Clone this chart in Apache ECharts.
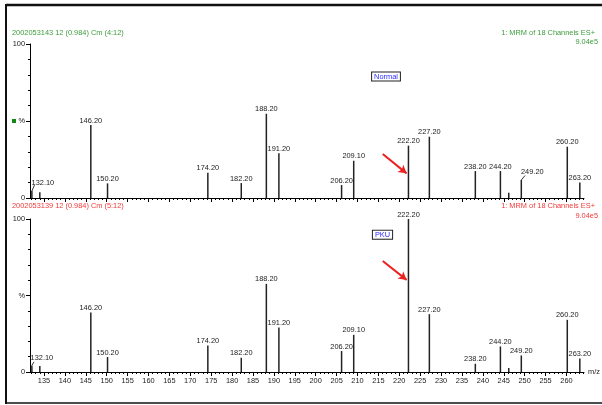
<!DOCTYPE html>
<html>
<head>
<meta charset="utf-8">
<script src="https://cdn.jsdelivr.net/npm/echarts@6/dist/echarts.min.js"></script>
<style>html,body{margin:0;padding:0;background:#fff;}#c{width:602px;height:405px;}</style>
</head>
<body>
<div id="c"></div>
<script>
// ---- data ----
const mz = [132.1, 134.0, 146.2, 150.2, 174.2, 182.2, 188.2, 191.2, 206.2, 209.1, 222.2, 227.2, 238.2, 244.2, 246.2, 249.2, 260.2, 263.2];
const mzLabels = ["132.10", "", "146.20", "150.20", "174.20", "182.20", "188.20", "191.20", "206.20", "209.10", "222.20", "227.20", "238.20", "244.20", "", "249.20", "260.20", "263.20"];
const normalPct = [4.5, 3.7, 47.4, 9.5, 16.4, 9.7, 54.7, 29.0, 8.4, 24.2, 34.0, 39.8, 17.5, 17.5, 3.4, 11.7, 33.3, 10.0];
const pkuPct = [4.3, 3.9, 38.9, 9.8, 17.4, 9.3, 57.6, 29.1, 13.7, 24.3, 100, 37.8, 5.4, 16.7, 2.6, 10.8, 34.1, 8.9];
const xMajorTicks = [135, 140, 145, 150, 155, 160, 165, 170, 175, 180, 185, 190, 195, 200, 205, 210, 215, 220, 225, 230, 235, 240, 245, 250, 255, 260];
const xMinorTicks = [132, 133, 134, 136, 137, 138, 139, 141, 142, 143, 144, 146, 147, 148, 149, 151, 152, 153, 154, 156, 157, 158, 159, 161, 162, 163, 164, 166, 167, 168, 169, 171, 172, 173, 174, 176, 177, 178, 179, 181, 182, 183, 184, 186, 187, 188, 189, 191, 192, 193, 194, 196, 197, 198, 199, 201, 202, 203, 204, 206, 207, 208, 209, 211, 212, 213, 214, 216, 217, 218, 219, 221, 222, 223, 224, 226, 227, 228, 229, 231, 232, 233, 234, 236, 237, 238, 239, 241, 242, 243, 244, 246, 247, 248, 249, 251, 252, 253, 254, 256, 257, 258, 259, 261, 262, 263, 264];
const yMajorTicks = [0, 50, 100];
const yMinorTicks = [10, 20, 30, 40, 60, 70, 80, 90];
const topTitle = "2002053143 12 (0.984) Cm (4:12)";
const bottomTitle = "2002053139 12 (0.984) Cm (5:12)";
const channelText = "1: MRM of 18 Channels ES+";
const intensityText = "9.04e5";
const arrowTop = [[216.05, 28.6], [221.75, 16.0]];
const arrowBottom = [[216.05, 72.6], [221.75, 60.2]];
// label leader lines: [peak index, end point of the leader]
const leadersTop = [[0, [132.75, 8.6]], [15, [250.1, 14.6]]];
const leadersBottom = [[0, [132.6, 6.6]]];

const FONT = "'Liberation Sans', Arial, sans-serif";
const FS = 7.4;
const GREEN = '#3c9c3c';
const RED = '#f03a3a';
const XMIN = 131.65, XMAX = 264.2;

const grids = [
  {left: 30, top: 44, width: 554, height: 154},
  {left: 30, top: 219, width: 554, height: 153}
];

function xAxes(gi, showLabels) {
  return [{
    type: 'value', gridIndex: gi, min: XMIN, max: XMAX, position: 'bottom',
    splitLine: {show: false},
    axisLine: {show: true, onZero: false, lineStyle: {color: '#000', width: 1}},
    axisTick: {show: true, customValues: xMajorTicks, length: 4, lineStyle: {color: '#000'}},
    axisLabel: {show: showLabels, customValues: xMajorTicks, fontSize: FS, fontFamily: FONT, color: '#222', margin: 5,
      formatter: v => String(v)},
    name: showLabels ? 'm/z' : '', nameLocation: 'end', nameGap: 4,
    nameTextStyle: {fontSize: FS, fontFamily: FONT, color: '#222', verticalAlign: 'middle'}
  }, {
    type: 'value', gridIndex: gi, min: XMIN, max: XMAX, position: 'bottom',
    splitLine: {show: false},
    axisLine: {show: false, onZero: false},
    axisTick: {show: true, customValues: xMinorTicks, length: 2, lineStyle: {color: '#000'}},
    axisLabel: {show: false}
  }];
}
function yAxes(gi) {
  return [{
    type: 'value', gridIndex: gi, min: 0, max: 100, position: 'left',
    splitLine: {show: false},
    axisLine: {show: true, onZero: false, lineStyle: {color: '#000', width: 1}},
    axisTick: {show: true, customValues: yMajorTicks, length: 4, lineStyle: {color: '#000'}},
    axisLabel: {show: true, customValues: yMajorTicks, fontSize: FS, fontFamily: FONT, color: '#222', margin: 5,
      formatter: v => (v === 50 ? '%' : String(v))}
  }, {
    type: 'value', gridIndex: gi, min: 0, max: 100, position: 'left',
    splitLine: {show: false},
    axisLine: {show: false, onZero: false},
    axisTick: {show: true, customValues: yMinorTicks, length: 2, lineStyle: {color: '#000'}},
    axisLabel: {show: false}
  }];
}

function peakSeries(values, gi, moves, arrow, leaders) {
  const lines = [[{coord: arrow[0], symbol: 'none'}, {coord: arrow[1], symbol: 'arrow'}]];
  leaders.forEach(([i, end]) => {
    lines.push([
      {coord: [mz[i], values[i]], symbol: 'none', lineStyle: {color: '#222', width: 0.9}},
      {coord: end, symbol: 'none'}
    ]);
  });
  return {
    type: 'bar', xAxisIndex: gi * 2, yAxisIndex: gi * 2,
    barWidth: 1.5, animation: false,
    itemStyle: {color: '#222'},
    data: mz.map((m, i) => [m, values[i]]),
    label: {show: true, position: 'top', distance: 1, fontSize: FS, fontFamily: FONT, color: '#222',
      formatter: p => mzLabels[p.dataIndex]},
    labelLayout: p => moves[p.dataIndex] || {},
    markLine: {
      silent: true, animation: false,
      symbol: ['none', 'arrow'], symbolSize: [7, 8],
      label: {show: false},
      lineStyle: {color: '#ee2020', width: 2, type: 'solid'},
      data: lines
    }
  };
}

const chart = echarts.init(document.getElementById('c'), null, {renderer: 'canvas'});

function txt(x, y, text, color, align) {
  return {type: 'text', x: x, y: y, style: {text: text, fill: color, font: FS + 'px ' + FONT, align: align || 'left', verticalAlign: 'middle'}};
}
function box(x, y, text) {
  return {type: 'text', x: x, y: y, style: {text: text, fill: '#2a2aff', font: FS + 'px ' + FONT, align: 'center', verticalAlign: 'middle',
    backgroundColor: '#fff', borderColor: '#222', borderWidth: 1, padding: [1, 2, 0, 2]}};
}

chart.setOption({
  backgroundColor: '#fff',
  animation: false,
  grid: grids,
  xAxis: [].concat(xAxes(0, false), xAxes(1, true)),
  yAxis: [].concat(yAxes(0), yAxes(1)),
  series: [
    peakSeries(normalPct, 0, {0: {dx: 11, dy: -4}, 15: {dx: 11, dy: -4}}, arrowTop, leadersTop),
    peakSeries(pkuPct, 1, {0: {dx: 10, dy: -3}}, arrowBottom, leadersBottom)
  ],
  graphic: [
    {type: 'line', shape: {x1: 6, y1: 5, x2: 602, y2: 5}, style: {stroke: '#111', lineWidth: 2.5}},
    {type: 'line', shape: {x1: 6, y1: 4, x2: 6, y2: 404}, style: {stroke: '#111', lineWidth: 2}},
    {type: 'line', shape: {x1: 6, y1: 403, x2: 602, y2: 403}, style: {stroke: '#111', lineWidth: 1.5}},
    txt(12, 32.5, topTitle, GREEN),
    txt(595, 32.5, channelText, GREEN, 'right'),
    txt(598, 42, intensityText, GREEN, 'right'),
    txt(12, 206, bottomTitle, RED),
    txt(595, 206, channelText, RED, 'right'),
    txt(598, 215.5, intensityText, RED, 'right'),
    {type: 'rect', shape: {x: 12, y: 119, width: 4, height: 4}, style: {fill: '#118811'}},
    box(386, 76.5, 'Normal'),
    box(382.5, 234.7, 'PKU')
  ]
});
</script>
</body>
</html>
